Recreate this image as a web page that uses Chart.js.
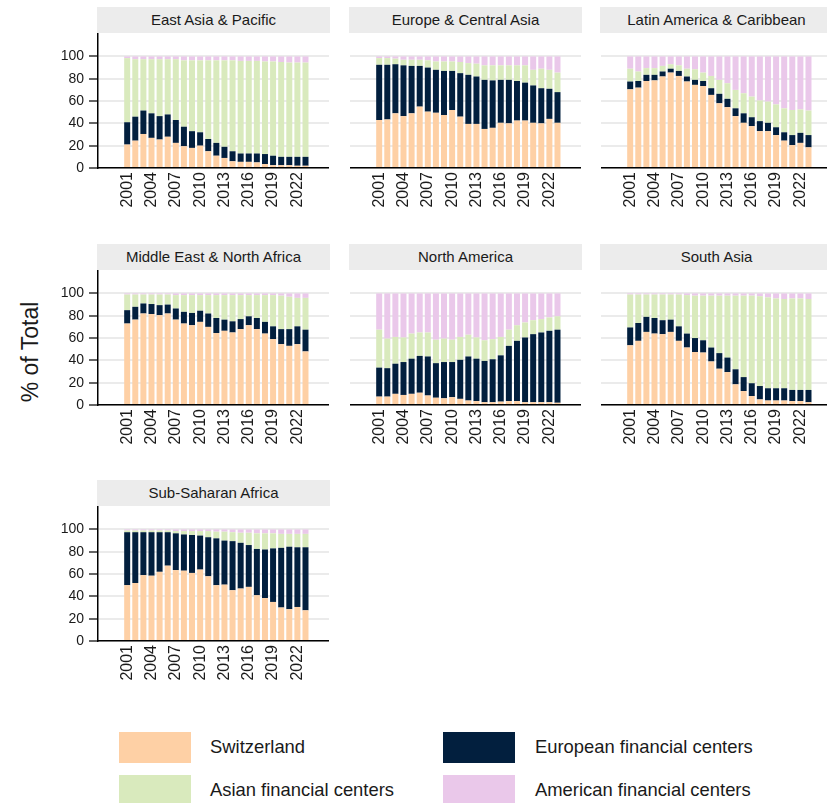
<!DOCTYPE html>
<html>
<head>
<meta charset="utf-8">
<script src="https://cdn.jsdelivr.net/npm/chart.js@4.4.1/dist/chart.umd.min.js"></script>
<style>
  body { margin: 0; width: 827px; height: 803px; overflow: hidden; background: #fff; position: relative;
         font-family: "Liberation Sans", Arial, sans-serif; color: #1a1a1a; }
  .strip { position: absolute; height: 26px; line-height: 26px; background: #ececec; text-align: center; font-size: 15px; }
  canvas { position: absolute; }
  .ytitle { position: absolute; left: 30px; top: 352px; transform: translate(-50%, -50%) rotate(-90deg);
            font-size: 23px; white-space: nowrap; }
  .sw { position: absolute; width: 72px; height: 31px; }
  .lab { position: absolute; font-size: 18.4px; line-height: 20px; white-space: nowrap; }
</style>
</head>
<body>
<div class="ytitle">% of Total</div>
<div id="panels"></div>
<div class="sw" style="left:119px;top:732px;background:#fed0a5"></div>
<div class="lab" style="left:210px;top:737px">Switzerland</div>
<div class="sw" style="left:443px;top:732px;background:#021f3e"></div>
<div class="lab" style="left:535px;top:737px">European financial centers</div>
<div class="sw" style="left:119px;top:775px;background:#d9eabd"></div>
<div class="lab" style="left:210px;top:780px">Asian financial centers</div>
<div class="sw" style="left:443px;top:775px;background:#eac8ea"></div>
<div class="lab" style="left:535px;top:780px">American financial centers</div>

<script>
const years = [2001, 2002, 2003, 2004, 2005, 2006, 2007, 2008, 2009, 2010, 2011, 2012,
               2013, 2014, 2015, 2016, 2017, 2018, 2019, 2020, 2021, 2022, 2023];
const yearTicks = [2001, 2004, 2007, 2010, 2013, 2016, 2019, 2022];
const pctTicks = [0, 20, 40, 60, 80, 100];
const seriesNames = ['Switzerland', 'European financial centers', 'Asian financial centers', 'American financial centers'];
const seriesColors = ['#fed0a5', '#021f3e', '#d9eabd', '#eac8ea'];

// East Asia & Pacific
const eapSwiss = [21, 24.5, 30.5, 27, 25.5, 28, 22.5, 19.5, 18, 20, 15, 11, 9, 6, 5.5, 5.5, 5, 3.5, 2.5, 2.5, 2.5, 2, 2];
const eapEurope = [20, 21.5, 21, 22, 21, 20, 20.5, 17.5, 15, 12, 11, 11.5, 10, 9, 7.5, 7.5, 8, 9, 8.5, 7.5, 7.5, 8, 8];
const eapAsia = [57.5, 51.5, 46, 48.5, 51, 49.5, 54.5, 59.5, 63.5, 64.5, 70.5, 74, 77.5, 81.5, 83, 83, 83, 83, 84.5, 85, 84.5, 84.5, 84.5];
const eapAmerica = [1.5, 2.5, 2.5, 2.5, 2.5, 2.5, 2.5, 3.5, 3.5, 3.5, 3.5, 3.5, 3.5, 3.5, 4, 4, 4, 4.5, 4.5, 5, 5.5, 5.5, 5.5];

// Europe & Central Asia
const ecaSwiss = [43, 43.5, 49, 46.5, 49, 55, 50.5, 49.5, 47.5, 52, 46, 39.5, 39.5, 35, 36, 40.5, 40, 42.5, 42.5, 40.5, 40, 44, 40.5];
const ecaEurope = [49.5, 49, 44, 45.5, 42.5, 36.5, 39.5, 38.5, 39.5, 35, 39, 44, 42.5, 44, 42.5, 38.5, 39, 35.5, 34, 33.5, 31.5, 27, 27.5];
const ecaAsia = [6, 6, 5, 5, 5.5, 5.5, 6.5, 7.5, 8.5, 8.5, 10, 10.5, 11.5, 13, 13.5, 13, 13, 14, 15.5, 14, 17.5, 17, 17.5];
const ecaAmerica = [1.5, 1.5, 2, 3, 3, 3, 3.5, 4.5, 4.5, 4.5, 5, 6, 6.5, 8, 8, 8, 8, 8, 8, 12, 11, 12, 14.5];

// Latin America & Caribbean
const lacSwiss = [70.5, 72, 78, 78.5, 82, 85.5, 82.5, 77.5, 74.5, 73.5, 65.5, 58, 54.5, 46.5, 40.5, 37.5, 33, 33, 29.5, 24.5, 20.5, 22.5, 18.5];
const lacEurope = [7, 6, 5.5, 5, 4.5, 3.5, 4.5, 4.5, 4.5, 4.5, 6, 8.5, 7.5, 7, 8.5, 8, 9, 7.5, 7, 7.5, 9, 9, 11];
const lacAsia = [11.5, 8.5, 6, 6, 5, 4, 5, 7, 9.5, 7.5, 11, 12.5, 14, 16.5, 18, 18.5, 18.5, 19, 20.5, 21.5, 22.5, 21, 22];
const lacAmerica = [11, 13.5, 10.5, 10.5, 8.5, 7, 8, 11, 11.5, 14.5, 17.5, 21, 24, 30, 33, 36, 39.5, 40.5, 43, 46.5, 48, 47.5, 48.5];

// Middle East & North Africa
const mnaSwiss = [73, 76.5, 82, 81.5, 80.5, 82, 76.5, 73, 71.5, 74.5, 70, 64.5, 66.5, 65, 68, 71.5, 68, 64, 59, 54.5, 53, 54.5, 48];
const mnaEurope = [12, 11.5, 9, 9, 9, 8, 10, 10.5, 11, 10, 12, 13.5, 10, 10, 9, 8, 10, 10.5, 11.5, 13.5, 15, 16, 19.5];
const mnaAsia = [14, 11, 8, 8.5, 9.5, 9, 12, 15, 16, 14, 16.5, 20.5, 22, 23.5, 21.5, 19, 20.5, 24, 28, 30, 29, 25.5, 28.5];
const mnaAmerica = [1, 1, 1, 1, 1, 1, 1.5, 1.5, 1.5, 1.5, 1.5, 1.5, 1.5, 1.5, 1.5, 1.5, 1.5, 1.5, 1.5, 2, 3, 4, 4];

// North America
const naSwiss = [7.5, 7.5, 10, 9, 10, 11, 8.5, 6.5, 6, 7, 5.5, 4, 3.5, 2.5, 2.5, 3, 3.5, 3.5, 2.5, 2.5, 2.5, 2.5, 2];
const naEurope = [26, 25.5, 27, 29.5, 31.5, 33, 35, 31, 32.5, 31.5, 35, 39.5, 38, 37, 38.5, 41.5, 49.5, 54, 58, 61, 62.5, 64, 65.5];
const naAsia = [34, 26.5, 24, 22, 22.5, 21, 21.5, 21, 21, 20, 20.5, 19.5, 19, 18.5, 18, 16.5, 14.5, 14, 13.5, 12.5, 12, 12, 12];
const naAmerica = [32.5, 40.5, 39, 39.5, 36, 35, 35, 41.5, 40.5, 41.5, 39, 37, 39.5, 42, 41, 39, 32.5, 28.5, 26, 24, 23, 21.5, 20.5];

// South Asia
const sasSwiss = [53.5, 57.5, 65.5, 64, 63.5, 65.5, 57.5, 51.5, 47.5, 47, 39, 32.5, 29.5, 18.5, 12.5, 8, 5, 4, 4, 4, 3.5, 3.5, 2.5];
const sasEurope = [16, 16, 13.5, 14, 12.5, 11, 13, 12.5, 12.5, 11, 12.5, 14, 13, 13.5, 12.5, 11.5, 12, 11, 11, 11, 10, 10, 11];
const sasAsia = [29.5, 25.5, 20, 21, 23, 22.5, 28.5, 34.5, 38, 40, 46.5, 51.5, 55.5, 66, 73, 78.5, 80.5, 81.5, 80.5, 80, 82, 82, 81.5];
const sasAmerica = [1, 1, 1, 1, 1, 1, 1, 1.5, 2, 2, 2, 2, 2, 2, 2, 2, 2.5, 3.5, 4.5, 5, 4.5, 4.5, 5];

// Sub-Saharan Africa
const ssaSwiss = [50, 52, 59, 58.5, 62, 67.5, 63.5, 63, 61, 64, 58, 50, 50.5, 45.5, 47, 48.5, 41, 38.5, 35, 30, 28.5, 30.5, 27.5];
const ssaEurope = [47.5, 45.5, 38.5, 39, 35.5, 30, 33, 32.5, 34, 30.5, 35, 42, 39.5, 44, 41, 37.5, 41.5, 43.5, 48, 53.5, 56, 53.5, 56.5];
const ssaAsia = [1.5, 1.5, 1.5, 1.5, 1.5, 1.5, 2, 3, 3.5, 4, 5.5, 6, 8, 8, 9, 11, 14, 14.5, 13.5, 12.5, 11.5, 12, 12];
const ssaAmerica = [1, 1, 1, 1, 1, 1, 1.5, 1.5, 1.5, 1.5, 1.5, 2, 2, 2.5, 3, 3, 3.5, 3.5, 3.5, 4, 4, 4, 4];

const panels = [
  { title: 'East Asia & Pacific', col: 0, row: 0, series: [eapSwiss, eapEurope, eapAsia, eapAmerica] },
  { title: 'Europe & Central Asia', col: 1, row: 0, series: [ecaSwiss, ecaEurope, ecaAsia, ecaAmerica] },
  { title: 'Latin America & Caribbean', col: 2, row: 0, series: [lacSwiss, lacEurope, lacAsia, lacAmerica] },
  { title: 'Middle East & North Africa', col: 0, row: 1, series: [mnaSwiss, mnaEurope, mnaAsia, mnaAmerica] },
  { title: 'North America', col: 1, row: 1, series: [naSwiss, naEurope, naAsia, naAmerica] },
  { title: 'South Asia', col: 2, row: 1, series: [sasSwiss, sasEurope, sasAsia, sasAmerica] },
  { title: 'Sub-Saharan Africa', col: 0, row: 2, series: [ssaSwiss, ssaEurope, ssaAsia, ssaAmerica] }
];

const colLeft = [98, 350, 601];
const rowStripTop = [7, 244, 480];
const plotW = 231, plotH = 135, stripH = 26, yAxisW = 58, xAxisH = 50;
const fontFamily = '"Liberation Sans", Arial, sans-serif';

function drawPanel(p) {
  const host = document.getElementById('panels');
  const left = colLeft[p.col];
  const top = rowStripTop[p.row];
  const first = p.col === 0;

  const strip = document.createElement('div');
  strip.className = 'strip';
  strip.textContent = p.title;
  strip.style.left = (left - 1) + 'px';
  strip.style.top = top + 'px';
  strip.style.width = (plotW + 2) + 'px';
  host.appendChild(strip);

  const canvas = document.createElement('canvas');
  const cw = plotW + (first ? yAxisW : 0);
  const ch = plotH + xAxisH;
  canvas.width = cw; canvas.height = ch;
  canvas.style.width = cw + 'px'; canvas.style.height = ch + 'px';
  canvas.style.left = (left - (first ? yAxisW : 0)) + 'px';
  canvas.style.top = (top + stripH) + 'px';
  host.appendChild(canvas);

  new Chart(canvas.getContext('2d'), {
    type: 'bar',
    data: {
      datasets: p.series.map((vals, i) => ({
        label: seriesNames[i],
        data: years.map((yr, j) => ({ x: yr, y: vals[j] })),
        backgroundColor: seriesColors[i],
        borderWidth: 0,
        barPercentage: 0.74,
        categoryPercentage: 1
      }))
    },
    options: {
      responsive: false,
      animation: false,
      layout: { padding: 0 },
      plugins: { legend: { display: false }, tooltip: { enabled: false }, title: { display: false } },
      scales: {
        x: {
          type: 'linear', stacked: true, offset: false,
          min: 1997.4, max: 2025.9,
          afterBuildTicks: s => { s.ticks = yearTicks.map(v => ({ value: v })); },
          afterFit: s => { s.height = xAxisH; s.paddingLeft = 0; s.paddingRight = 0; },
          grid: { display: false, drawTicks: false },
          border: { display: true, color: '#000', width: 1.5 },
          ticks: {
            autoSkip: false, minRotation: 90, maxRotation: 90, padding: 4,
            color: '#1a1a1a', font: { size: 16, family: fontFamily },
            callback: v => String(v)
          }
        },
        y: {
          stacked: true, min: 0, max: 121,
          afterBuildTicks: s => { s.ticks = pctTicks.map(v => ({ value: v })); },
          afterFit: s => { s.width = first ? yAxisW : 0; s.paddingTop = 0; s.paddingBottom = 0; },
          grid: { color: '#ebebeb', lineWidth: 2, drawTicks: first, tickLength: 9, tickColor: '#000', tickWidth: 1.2 },
          border: { display: first, color: '#000', width: 1.5 },
          ticks: { display: first, padding: 5, color: '#1a1a1a', font: { size: 14, family: fontFamily } }
        }
      }
    }
  });
}

panels.forEach(drawPanel);
</script>
</body>
</html>
